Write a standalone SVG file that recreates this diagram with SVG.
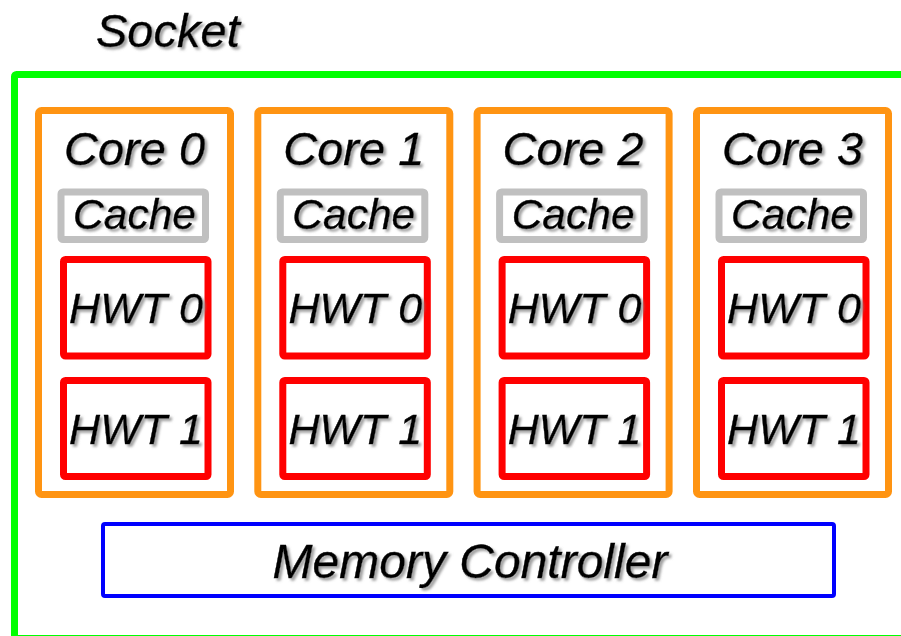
<svg xmlns="http://www.w3.org/2000/svg" width="901" height="636" viewBox="0 0 901 636">
  <defs>
    <filter id="shadow" x="-10%" y="-20%" width="130%" height="150%">
      <feDropShadow dx="2.5" dy="2.5" stdDeviation="0.8" flood-color="#8a8a8a" flood-opacity="0.8"/>
    </filter>
  </defs>
  <style>
    text { font-family: "Liberation Sans", Arial, sans-serif; font-style: italic; fill: #000; stroke: #000; stroke-width: 0.4; filter: url(#shadow); }
    .socket { fill: none; stroke: #00ff00; stroke-width: 7; }
    .core { fill: #fff; stroke: #ff9412; stroke-width: 7; }
    .cache { fill: #fff; stroke: #c0c0c0; stroke-width: 7; }
    .hwt { fill: #fff; stroke: #ff0000; stroke-width: 7; }
    .mc { fill: #fff; stroke: #0000ff; stroke-width: 4; }
    .title { font-size: 47px; text-anchor: middle; }
    .cache-label { font-size: 42.5px; text-anchor: middle; }
    .hwt-label { font-size: 43px; text-anchor: middle; }
  </style>

  <rect width="901" height="636" fill="#fff"/>

  <!-- Socket -->
  <g id="socket">
    <rect class="socket" x="14.5" y="74.5" width="900" height="564" rx="2"/>
    <text x="96" y="47" style="font-size:47px">Socket</text>
  </g>

  <!-- Core 0 -->
  <g id="core0">
    <rect class="core" x="38.5" y="110.5" width="192" height="384" rx="3"/>
    <text class="title" x="134.5" y="165">Core 0</text>
    <rect class="cache" x="61" y="192" width="144.5" height="47.5" rx="2"/>
    <text class="cache-label" x="134.5" y="229">Cache</text>
    <rect class="hwt" x="63.5" y="259.5" width="144.5" height="96.5" rx="2"/>
    <text class="hwt-label" x="136" y="323">HWT 0</text>
    <rect class="hwt" x="63.5" y="380.5" width="144.5" height="96" rx="2"/>
    <text class="hwt-label" x="136" y="444">HWT 1</text>
  </g>

  <!-- Core 1 -->
  <g id="core1" transform="translate(219.3,0)">
    <rect class="core" x="38.5" y="110.5" width="192" height="384" rx="3"/>
    <text class="title" x="134.5" y="165">Core 1</text>
    <rect class="cache" x="61" y="192" width="144.5" height="47.5" rx="2"/>
    <text class="cache-label" x="134.5" y="229">Cache</text>
    <rect class="hwt" x="63.5" y="259.5" width="144.5" height="96.5" rx="2"/>
    <text class="hwt-label" x="136" y="323">HWT 0</text>
    <rect class="hwt" x="63.5" y="380.5" width="144.5" height="96" rx="2"/>
    <text class="hwt-label" x="136" y="444">HWT 1</text>
  </g>

  <!-- Core 2 -->
  <g id="core2" transform="translate(438.6,0)">
    <rect class="core" x="38.5" y="110.5" width="192" height="384" rx="3"/>
    <text class="title" x="134.5" y="165">Core 2</text>
    <rect class="cache" x="61" y="192" width="144.5" height="47.5" rx="2"/>
    <text class="cache-label" x="134.5" y="229">Cache</text>
    <rect class="hwt" x="63.5" y="259.5" width="144.5" height="96.5" rx="2"/>
    <text class="hwt-label" x="136" y="323">HWT 0</text>
    <rect class="hwt" x="63.5" y="380.5" width="144.5" height="96" rx="2"/>
    <text class="hwt-label" x="136" y="444">HWT 1</text>
  </g>

  <!-- Core 3 -->
  <g id="core3" transform="translate(658,0)">
    <rect class="core" x="38.5" y="110.5" width="192" height="384" rx="3"/>
    <text class="title" x="134.5" y="165">Core 3</text>
    <rect class="cache" x="61" y="192" width="144.5" height="47.5" rx="2"/>
    <text class="cache-label" x="134.5" y="229">Cache</text>
    <rect class="hwt" x="63.5" y="259.5" width="144.5" height="96.5" rx="2"/>
    <text class="hwt-label" x="136" y="323">HWT 0</text>
    <rect class="hwt" x="63.5" y="380.5" width="144.5" height="96" rx="2"/>
    <text class="hwt-label" x="136" y="444">HWT 1</text>
  </g>

  <!-- Memory controller -->
  <g id="memory-controller">
    <rect class="mc" x="103" y="524" width="731" height="72" rx="2"/>
    <text x="470" y="578" style="font-size:48px;text-anchor:middle">Memory Controller</text>
  </g>

  <!-- no connectors in this figure -->
  <g id="connectors"/>
</svg>
